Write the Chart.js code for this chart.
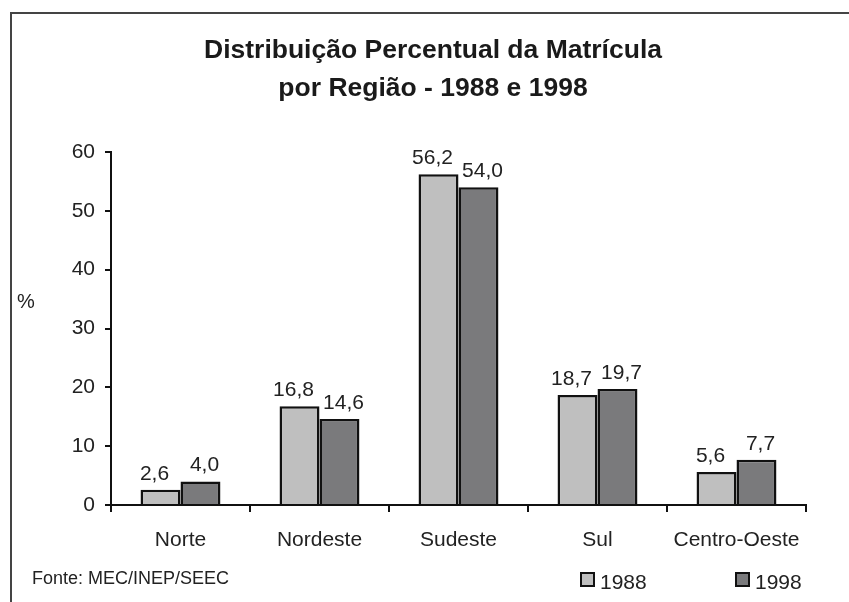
<!DOCTYPE html>
<html>
<head>
<meta charset="utf-8">
<script src="https://cdn.jsdelivr.net/npm/chart.js@4/dist/chart.umd.min.js"></script>
<style>
  html, body { margin: 0; padding: 0; background: #fff; }
  canvas { display: block; }
</style>
</head>
<body>
<canvas id="chart" width="849" height="602"></canvas>
<script>
// Dados
const regioes = ['Norte', 'Nordeste', 'Sudeste', 'Sul', 'Centro-Oeste'];
const anos = ['1988', '1998'];
const valores1988 = [2.6, 16.8, 56.2, 18.7, 5.6];
const valores1998 = [4.0, 14.6, 54.0, 19.7, 7.7];
const tituloLinhas = ['Distribuição Percentual da Matrícula', 'por Região - 1988 e 1998'];
const fonte = 'Fonte: MEC/INEP/SEEC';

const FONT = '"Liberation Sans", Arial, Helvetica, sans-serif';
const cores = ['#bfbfbf', '#7a7a7c'];
const deslocRotulo = [-6, 4]; // ajuste horizontal dos rotulos por serie

// Desenho extra: moldura, titulo, rotulos, legenda
const extras = {
  id: 'extras',
  afterDraw(chart) {
    const ctx = chart.ctx;
    ctx.save();

    // moldura
    ctx.strokeStyle = '#444';
    ctx.lineWidth = 2;
    ctx.beginPath();
    ctx.moveTo(11, 602);
    ctx.lineTo(11, 13);
    ctx.lineTo(849, 13);
    ctx.stroke();

    // titulo
    ctx.fillStyle = '#1a1a1a';
    ctx.font = 'bold 26.5px ' + FONT;
    ctx.textAlign = 'center';
    ctx.textBaseline = 'alphabetic';
    ctx.fillText(tituloLinhas[0], 433, 58);
    ctx.fillText(tituloLinhas[1], 433, 96);

    // rotulos de valor
    ctx.font = '21px ' + FONT;
    ctx.fillStyle = '#222';
    chart.data.datasets.forEach((ds, i) => {
      const meta = chart.getDatasetMeta(i);
      meta.data.forEach((bar, j) => {
        const txt = ds.data[j].toFixed(1).replace('.', ',');
        ctx.fillText(txt, bar.x + deslocRotulo[i], bar.y - 10);
      });
    });

    // eixo %
    ctx.textAlign = 'left';
    ctx.textBaseline = 'middle';
    ctx.font = '20px ' + FONT;
    ctx.fillText('%', 17, 302);

    // fonte
    ctx.font = '18px ' + FONT;
    ctx.fillText(fonte, 32, 579);

    // legenda
    const legX = [581, 736];
    chart.data.datasets.forEach((ds, i) => {
      ctx.fillStyle = ds.backgroundColor;
      ctx.fillRect(legX[i], 573, 13, 13);
      ctx.strokeStyle = '#111';
      ctx.lineWidth = 2;
      ctx.strokeRect(legX[i], 573, 13, 13);
      ctx.fillStyle = '#222';
      ctx.font = '21px ' + FONT;
      ctx.textAlign = 'left';
      ctx.fillText(ds.label, legX[i] + 19, 583);
    });

    ctx.restore();
  }
};

new Chart(document.getElementById('chart').getContext('2d'), {
  type: 'bar',
  data: {
    labels: regioes,
    datasets: [
      { label: anos[0], data: valores1988, backgroundColor: cores[0], borderColor: '#111', borderWidth: 2.5 },
      { label: anos[1], data: valores1998, backgroundColor: cores[1], borderColor: '#111', borderWidth: 2.5 }
    ]
  },
  options: {
    responsive: false,
    animation: false,
    layout: { padding: { left: 0, top: 152, right: 43, bottom: 0 } },
    datasets: {
      bar: { categoryPercentage: 0.575, barPercentage: 1.0 }
    },
    plugins: {
      legend: { display: false },
      title: { display: false },
      tooltip: { enabled: false }
    },
    scales: {
      x: {
        grid: {
          offset: true,
          drawOnChartArea: false,
          drawTicks: true,
          tickLength: 7,
          color: '#111',
          lineWidth: 2
        },
        border: { color: '#111', width: 2 },
        ticks: {
          color: '#222',
          font: { family: FONT, size: 21 },
          padding: 16,
          maxRotation: 0
        },
        afterFit(scale) { scale.height = 97; }
      },
      y: {
        min: 0,
        max: 60,
        grid: {
          drawOnChartArea: false,
          drawTicks: true,
          tickLength: 6,
          color: '#111',
          lineWidth: 2
        },
        border: { color: '#111', width: 2 },
        ticks: {
          stepSize: 10,
          color: '#222',
          font: { family: FONT, size: 21 },
          padding: 10
        },
        afterFit(scale) { scale.width = 111; }
      }
    }
  },
  plugins: [extras]
});
</script>
</body>
</html>
